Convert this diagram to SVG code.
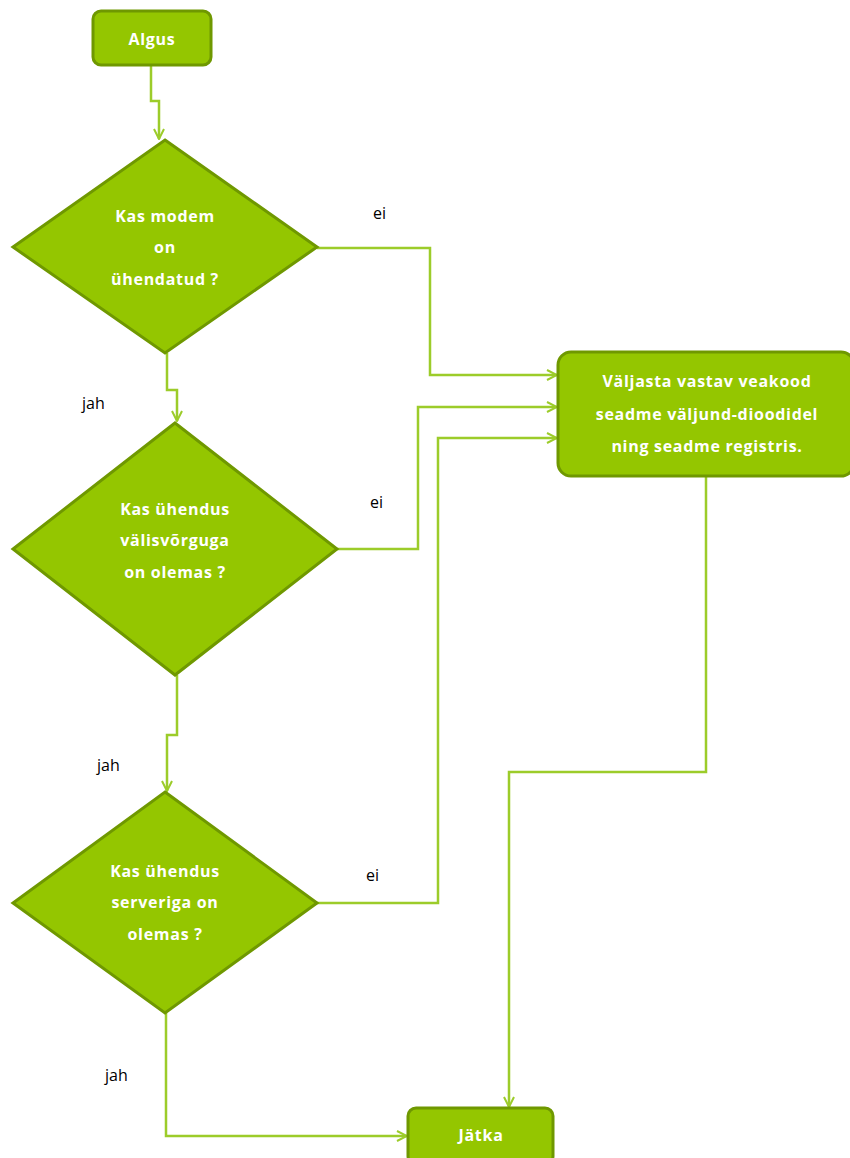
<svg xmlns="http://www.w3.org/2000/svg" width="850" height="1158" viewBox="0 0 850 1158">
<style>
.node{fill:#94c600;stroke:#6f9800;stroke-width:3}
.nt{font-family:"Open Sans","Liberation Sans",sans-serif;font-weight:bold;font-size:16px;letter-spacing:0.7px;fill:#ffffff;text-anchor:middle}
.lbl{font-family:"Open Sans","Liberation Sans",sans-serif;font-size:16px;fill:#000000}
.conn{fill:none;stroke:#9ccc2a;stroke-width:2.5}
</style>
<defs>
<marker id="arr" viewBox="0 0 12 12" refX="11" refY="6" markerWidth="12" markerHeight="12" markerUnits="userSpaceOnUse" orient="auto">
<path d="M1,1 L11,6 L1,11" fill="none" stroke="#9ccc2a" stroke-width="2"/>
</marker>
</defs>
<rect width="850" height="1158" fill="#ffffff"/>
<g id="connectors">
<path class="conn" d="M151,65 V101 H159 V139" marker-end="url(#arr)"/>
<path class="conn" d="M317,248 H430 V375 H557" marker-end="url(#arr)"/>
<path class="conn" d="M167,353 V390 H177 V421" marker-end="url(#arr)"/>
<path class="conn" d="M337,549 H418 V407 H557" marker-end="url(#arr)"/>
<path class="conn" d="M177,675 V735 H167 V791" marker-end="url(#arr)"/>
<path class="conn" d="M317,903 H438 V438 H557" marker-end="url(#arr)"/>
<path class="conn" d="M166,1013 V1136 H407" marker-end="url(#arr)"/>
<path class="conn" d="M706,477 V772 H509 V1107" marker-end="url(#arr)"/>
<text class="lbl" x="373" y="219">ei</text>
<text class="lbl" x="82" y="409">jah</text>
<text class="lbl" x="370" y="508">ei</text>
<text class="lbl" x="97" y="771">jah</text>
<text class="lbl" x="366" y="881">ei</text>
<text class="lbl" x="105" y="1081">jah</text>
</g>
<g id="start">
<rect class="node" x="93" y="11" width="118" height="54" rx="8"/>
<text class="nt" x="152" y="45">Algus</text>
</g>
<g id="d1">
<polygon class="node" points="165,140 317,247 165,353 13,247"/>
<text class="nt" x="165" y="222">Kas modem</text>
<text class="nt" x="165" y="253">on</text>
<text class="nt" x="165" y="285">ühendatud ?</text>
</g>
<g id="d2">
<polygon class="node" points="175,423 337,549 175,675 13,549"/>
<text class="nt" x="175" y="515">Kas ühendus</text>
<text class="nt" x="175" y="546">välisvõrguga</text>
<text class="nt" x="175" y="578">on olemas ?</text>
</g>
<g id="d3">
<polygon class="node" points="165,792 317,903 165,1013 13,903"/>
<text class="nt" x="165" y="877">Kas ühendus</text>
<text class="nt" x="165" y="908">serveriga on</text>
<text class="nt" x="165" y="940">olemas ?</text>
</g>
<g id="error">
<rect class="node" x="558" y="352" width="296" height="124" rx="13"/>
<text class="nt" x="707" y="387">Väljasta vastav veakood</text>
<text class="nt" x="707" y="420">seadme väljund-dioodidel</text>
<text class="nt" x="707" y="452">ning seadme registris.</text>
</g>
<g id="end">
<rect class="node" x="408" y="1108" width="145" height="56" rx="8"/>
<text class="nt" x="481" y="1141">Jätka</text>
</g>
</svg>
